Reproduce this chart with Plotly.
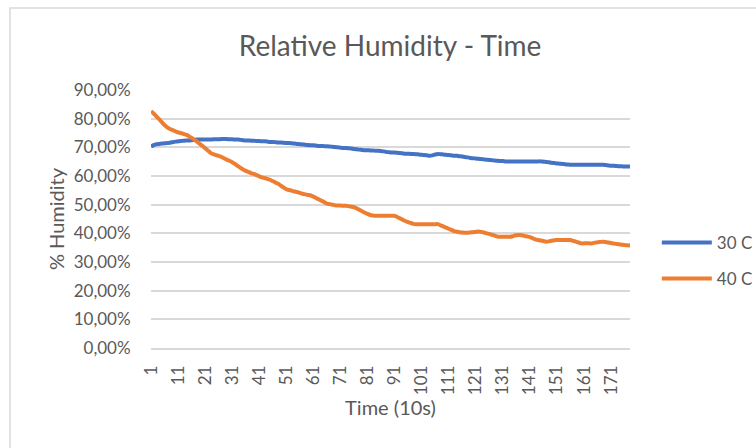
import plotly.graph_objects as go

# ---- data ----
series_names = ["30 C", "40 C"]
tick_labels = ["1", "11", "21", "31", "41", "51", "61", "71", "81", "91",
               "101", "111", "121", "131", "141", "151", "161", "171"]

rh_30c = [
    70.3, 70.8, 71.1, 71.2, 71.3, 71.4, 71.5, 71.6, 71.8, 72.0,
    72.1, 72.2, 72.3, 72.4, 72.4, 72.5, 72.6, 72.7, 72.7, 72.7,
    72.7, 72.7, 72.7, 72.8, 72.8, 72.8, 72.9, 72.9, 72.9, 72.8,
    72.8, 72.7, 72.7, 72.6, 72.5, 72.4, 72.4, 72.3, 72.3, 72.2,
    72.2, 72.1, 72.1, 72.0, 71.9, 71.9, 71.8, 71.7, 71.7, 71.6,
    71.5, 71.5, 71.4, 71.3, 71.2, 71.1, 71.0, 70.9, 70.8, 70.7,
    70.7, 70.6, 70.5, 70.5, 70.4, 70.4, 70.3, 70.2, 70.1, 70.0,
    69.9, 69.8, 69.8, 69.7, 69.6, 69.4, 69.3, 69.2, 69.1, 69.0,
    69.0, 68.9, 68.9, 68.8, 68.8, 68.7, 68.6, 68.4, 68.3, 68.2,
    68.2, 68.1, 68.0, 67.9, 67.8, 67.8, 67.7, 67.7, 67.6, 67.5,
    67.4, 67.3, 67.2, 67.1, 67.2, 67.5, 67.7, 67.6, 67.5, 67.4,
    67.3, 67.2, 67.1, 67.1, 66.9, 66.8, 66.6, 66.5, 66.3, 66.2,
    66.1, 66.0, 65.9, 65.8, 65.7, 65.6, 65.5, 65.4, 65.3, 65.2,
    65.2, 65.1, 65.1, 65.1, 65.1, 65.1, 65.1, 65.1, 65.1, 65.1,
    65.1, 65.1, 65.1, 65.1, 65.1, 65.0, 64.9, 64.8, 64.6, 64.5,
    64.4, 64.3, 64.2, 64.1, 64.0, 63.9, 63.9, 63.9, 63.9, 63.9,
    63.9, 63.9, 63.9, 63.9, 63.9, 63.9, 63.9, 63.9, 63.8, 63.7,
    63.6, 63.6, 63.5, 63.4, 63.4, 63.3, 63.3, 63.3,
]

rh_40c = [
    82.6, 81.8, 80.8, 79.8, 78.8, 77.8, 77.0, 76.4, 76.0, 75.6,
    75.2, 75.0, 74.7, 74.4, 73.9, 73.3, 72.7, 72.0, 71.2, 70.5,
    69.7, 68.9, 68.1, 67.6, 67.3, 67.0, 66.7, 66.2, 65.7, 65.3,
    64.8, 64.2, 63.5, 62.9, 62.3, 61.8, 61.4, 61.0, 60.7, 60.3,
    59.9, 59.5, 59.3, 59.0, 58.7, 58.2, 57.7, 57.3, 56.6, 56.0,
    55.4, 55.1, 54.9, 54.6, 54.4, 54.1, 53.8, 53.6, 53.4, 53.2,
    52.8, 52.3, 51.9, 51.4, 50.9, 50.4, 50.2, 50.0, 49.8, 49.7,
    49.7, 49.6, 49.6, 49.5, 49.3, 49.1, 48.7, 48.2, 47.7, 47.2,
    46.8, 46.4, 46.2, 46.1, 46.1, 46.1, 46.1, 46.1, 46.1, 46.1,
    46.1, 45.7, 45.2, 44.7, 44.3, 43.9, 43.6, 43.3, 43.2, 43.2,
    43.2, 43.2, 43.2, 43.2, 43.2, 43.2, 43.2, 42.8, 42.4, 42.0,
    41.6, 41.2, 40.8, 40.6, 40.4, 40.3, 40.2, 40.2, 40.3, 40.4,
    40.5, 40.6, 40.5, 40.3, 40.0, 39.8, 39.5, 39.2, 38.9, 38.8,
    38.8, 38.8, 38.8, 38.8, 39.1, 39.3, 39.4, 39.3, 39.1, 38.9,
    38.7, 38.3, 37.9, 37.7, 37.5, 37.3, 37.1, 37.2, 37.4, 37.6,
    37.7, 37.7, 37.7, 37.7, 37.7, 37.7, 37.4, 37.1, 36.8, 36.5,
    36.5, 36.5, 36.5, 36.5, 36.7, 36.9, 37.0, 37.1, 37.0, 36.8,
    36.6, 36.4, 36.3, 36.2, 36.0, 35.9, 35.8, 35.8,
]

time_idx = list(range(1, len(rh_30c) + 1))
tick_vals = [int(t) for t in tick_labels]

BLUE = "#4472C4"
ORANGE = "#ED7D31"
TEXT = "#595959"
GRID = "#D9D9D9"
FONT = "Lato, 'Open Sans', sans-serif"

fig = go.Figure()
for name, vals, col, grp in [(series_names[0], rh_30c, BLUE, "a"),
                             (series_names[1], rh_40c, ORANGE, "b")]:
    fig.add_trace(go.Scatter(
        x=time_idx, y=[v / 100 for v in vals], mode="lines", name=name,
        legendgroup=grp,
        line=dict(color=col, width=4, shape="spline", smoothing=0.6),
        hoverinfo="skip",
    ))

fig.update_layout(
    width=756, height=448,
    margin=dict(l=151, r=126, t=90, b=100, autoexpand=False),
    paper_bgcolor="white", plot_bgcolor="white",
    separators=",.",
    font=dict(family=FONT, color=TEXT, size=17),
    title=dict(text="Relative Humidity - Time", x=0.516, xanchor="center",
               y=1 - 46 / 448, yanchor="middle", yref="container",
               font=dict(size=28, color=TEXT, family=FONT)),
    showlegend=True,
    legend=dict(x=1.056, xanchor="left", y=0.477, yanchor="top",
                font=dict(size=17, color=TEXT), tracegroupgap=11,
                traceorder="grouped", itemwidth=50,
                bgcolor="rgba(0,0,0,0)"),
    xaxis=dict(range=[1, len(time_idx)], tickmode="array", tickvals=tick_vals,
               ticktext=tick_labels, tickangle=-90, showgrid=False,
               zeroline=False, showline=True, linecolor=GRID, linewidth=1.5,
               ticks="outside", ticklen=9, tickcolor="rgba(0,0,0,0)",
               tickfont=dict(size=17, color=TEXT),
               title=dict(text="Time (10s)", font=dict(size=20, color=TEXT),
                          standoff=7)),
    yaxis=dict(range=[0, 0.9], tickmode="linear", tick0=0, dtick=0.1,
               tickformat=".2%", showgrid=True, gridcolor=GRID, gridwidth=1.5,
               zeroline=False, showline=False,
               ticks="outside", ticklen=16, tickcolor="rgba(0,0,0,0)",
               tickfont=dict(size=17, color=TEXT),
               title=dict(text="% Humidity", font=dict(size=20, color=TEXT),
                          standoff=3)),
    shapes=[dict(type="rect", xref="paper", yref="paper",
                 x0=(10 - 151) / 479, x1=(770 - 151) / 479,
                 y0=-(470 - 348) / 258, y1=1 + (90 - 8) / 258,
                 line=dict(color=GRID, width=1.5), layer="below")],
)

fig.write_html("out.html")
